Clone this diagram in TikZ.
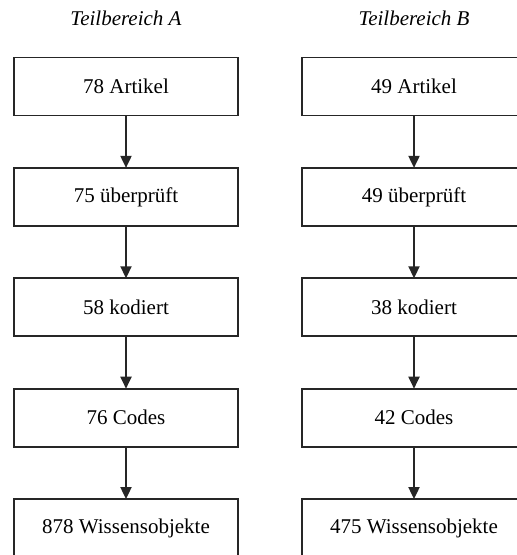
\documentclass[tikz,border=0pt]{standalone}
\usepackage{fontspec}
\setmainfont{Liberation Serif}
\usetikzlibrary{arrows.meta}
\begin{document}
\begin{tikzpicture}[x=0.5pt,y=-0.5pt,
  font=\fontsize{10.5}{12.6}\selectfont,
  stage/.style={draw=black!85, line width=0.95pt, fill=white,
    minimum width=112pt, minimum height=29pt, inner sep=0pt, outer sep=0pt},
  heading/.style={font=\fontsize{10.5}{12.6}\selectfont\itshape, inner sep=0pt},
  flow/.style={draw=black!85, line width=0.95pt,
    -{Triangle[width=5.5pt,length=6pt]}}]
\useasboundingbox (0,0) rectangle (517,555);
\clip (0,0) rectangle (517,555);

% column headings
\node[heading] (ha) at (126,18) {Teilbereich A};
\node[heading] (hb) at (414,18) {Teilbereich B};

% stages of Teilbereich A
\node[stage] (a1) at (126,86.5)  {78 Artikel};
\node[stage] (a2) at (126,196.9) {75 überprüft};
\node[stage] (a3) at (126,307.3) {58 kodiert};
\node[stage] (a4) at (126,417.7) {76 Codes};
\node[stage] (a5) at (126,528.1) {878 Wissensobjekte};

% stages of Teilbereich B
\node[stage] (b1) at (414,86.5)  {49 Artikel};
\node[stage] (b2) at (414,196.9) {49 überprüft};
\node[stage] (b3) at (414,307.3) {38 kodiert};
\node[stage] (b4) at (414,417.7) {42 Codes};
\node[stage] (b5) at (414,528.1) {475 Wissensobjekte};

% connectors
\foreach \c in {a,b}{
  \draw[flow] (\c1.south) -- (\c2.north);
  \draw[flow] (\c2.south) -- (\c3.north);
  \draw[flow] (\c3.south) -- (\c4.north);
  \draw[flow] (\c4.south) -- (\c5.north);
}
\end{tikzpicture}
\end{document}
